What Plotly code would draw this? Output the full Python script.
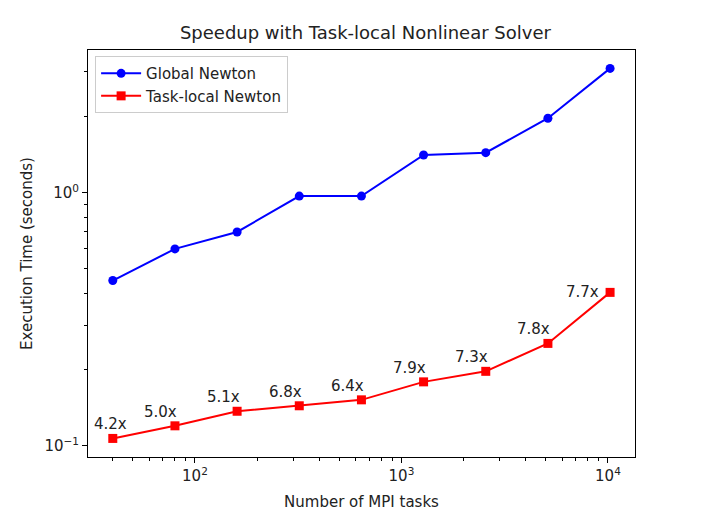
import numpy as np
import plotly.graph_objects as go

# data
mpi_tasks = [40, 80, 160, 320, 640, 1280, 2560, 5120, 10240]
global_newton = [0.45, 0.60, 0.70, 0.97, 0.97, 1.41, 1.44, 1.97, 3.10]
local_newton = [0.107, 0.120, 0.137, 0.144, 0.152, 0.179, 0.197, 0.254, 0.404]
speedup_labels = ["4.2x", "5.0x", "5.1x", "6.8x", "6.4x", "7.9x", "7.3x", "7.8x", "7.7x"]

x_major = [100, 1000, 10000]
x_major_text = ["10<sup>2</sup>", "10<sup>3</sup>", "10<sup>4</sup>"]
x_minor = [40, 50, 60, 70, 80, 90, 200, 300, 400, 500, 600, 700, 800, 900,
           2000, 3000, 4000, 5000, 6000, 7000, 8000, 9000]
y_major = [0.1, 1]
y_major_text = ["10<sup>\u22121</sup>", "10<sup>0</sup>"]
y_minor = [0.2, 0.3, 0.4, 0.5, 0.6, 0.7, 0.8, 0.9, 2, 3]

font = "DejaVu Sans"

fig = go.Figure()

fig.add_trace(go.Scatter(
    x=mpi_tasks, y=global_newton, name="Global Newton",
    mode="lines+markers",
    line=dict(color="blue", width=2),
    marker=dict(symbol="circle", size=9, color="blue"),
))
fig.add_trace(go.Scatter(
    x=mpi_tasks, y=local_newton, name="Task-local Newton",
    mode="lines+markers",
    line=dict(color="red", width=2),
    marker=dict(symbol="square", size=9, color="red"),
))

# speedup labels above the task-local points
n = len(mpi_tasks)
for i, (xv, yv, lab) in enumerate(zip(mpi_tasks, local_newton, speedup_labels)):
    if i == n - 1:
        xs, ys, anchor = -9, 0, "right"
    elif i == 0:
        xs, ys, anchor = -2, 14, "center"
    else:
        xs, ys, anchor = -14, 14, "center"
    fig.add_annotation(
        x=np.log10(xv), y=np.log10(yv), xref="x", yref="y",
        text=lab, showarrow=False, xanchor=anchor, yanchor="middle",
        xshift=xs, yshift=ys,
        font=dict(family=font, size=15, color="#222"),
    )

axis_common = dict(
    type="log",
    automargin=False,
    showgrid=False, zeroline=False,
    showline=True, linecolor="black", linewidth=1, mirror=True,
    ticks="outside", ticklen=5, tickwidth=1, tickcolor="black",
    tickfont=dict(family=font, size=15, color="#222"),
)

fig.update_xaxes(
    **axis_common,
    range=[1.482, 4.131],
    tickmode="array", tickvals=x_major, ticktext=x_major_text,
    minor=dict(tickmode="array", tickvals=x_minor, ticks="outside",
               ticklen=3, tickcolor="black", tickwidth=1),
    title=dict(text="Number of MPI tasks", standoff=12,
               font=dict(family=font, size=15, color="#222")),
)
fig.update_yaxes(
    **axis_common,
    range=[-1.044, 0.564],
    tickmode="array", tickvals=y_major, ticktext=y_major_text,
    minor=dict(tickmode="array", tickvals=y_minor, ticks="outside",
               ticklen=3, tickcolor="black", tickwidth=1),
    title=dict(text="Execution Time (seconds)", standoff=8,
               font=dict(family=font, size=15, color="#222")),
)

# page body has an 8px margin, so the figure is a bit smaller than the window
fig.update_layout(
    width=698, height=507,
    margin=dict(l=80, r=71, t=42, b=58),
    paper_bgcolor="white", plot_bgcolor="white",
    title=dict(text="Speedup with Task-local Nonlinear Solver",
               x=0.512, xanchor="center", y=1 - 25 / 507, yanchor="middle",
               font=dict(family=font, size=18, color="#222")),
    legend=dict(x=0.013, y=0.985, xanchor="left", yanchor="top",
                itemwidth=40,
                bgcolor="rgba(255,255,255,0.8)", bordercolor="#ccc",
                borderwidth=1, font=dict(family=font, size=15, color="#222")),
    showlegend=True,
)

fig.write_html("out.html")
